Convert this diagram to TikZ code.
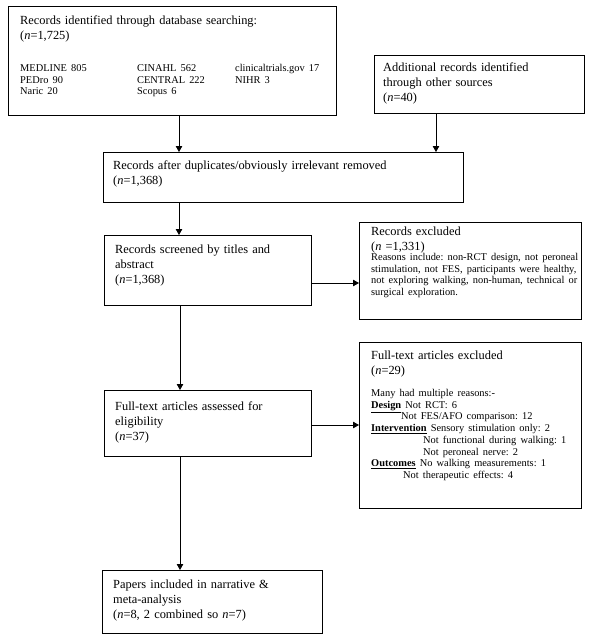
\documentclass[tikz,border=0pt]{standalone}
\usepackage{fontspec}
\setmainfont{Liberation Serif}
\usetikzlibrary{arrows.meta}
\newcommand{\bigtxt}{\fontsize{12.4}{15}\selectfont}
\newcommand{\smtxt}{\fontsize{10.4}{11.7}\selectfont}
\frenchspacing
\begin{document}
\begin{tikzpicture}[x=1pt,y=-1pt,
  boxnode/.style={draw, line width=0.9pt, rectangle, anchor=north west, inner sep=0pt},
  txt/.style={anchor=north west, inner sep=0pt, align=left, text width=#1, font=\bigtxt\frenchspacing},
  arr/.style={line width=0.9pt, -{Triangle[length=6pt,width=6.5pt]}}]
\useasboundingbox (0,0) rectangle (595,638);
% boxes
\node[boxnode, minimum width=328pt, minimum height=109pt] (b1) at (8,6) {};
\node[boxnode, minimum width=210pt, minimum height=58pt] (b2) at (374,55) {};
\node[boxnode, minimum width=360pt, minimum height=50pt] (b3) at (103,152) {};
\node[boxnode, minimum width=207pt, minimum height=70pt] (b4) at (104,235) {};
\node[boxnode, minimum width=222pt, minimum height=97pt] (b5) at (359,222) {};
\node[boxnode, minimum width=207pt, minimum height=66pt] (b6) at (104,390) {};
\node[boxnode, minimum width=222pt, minimum height=166pt] (b7) at (359,342) {};
\node[boxnode, minimum width=220pt, minimum height=63pt] (b8) at (102,570) {};
% texts
\node[txt=310pt] (t1) at (20,16) {Records identified through database searching:\\ (\textit{n}=1,725)};
\node[txt=310pt] (t1a) at (20,63) {\smtxt\setlength{\tabcolsep}{0pt}\begin{tabular}{@{}p{117pt}p{98pt}l@{}}
MEDLINE 805 & CINAHL 562 & clinicaltrials.gov 17\\
PEDro 90 & CENTRAL 222 & NIHR 3\\
Naric 20 & Scopus 6 & \end{tabular}};
\node[txt=195pt] (t2) at (383,63) {Additional records identified\\ through other sources\\ (\textit{n}=40)};
\node[txt=345pt] (t3) at (113,161) {Records after duplicates/obviously irrelevant removed\\ (\textit{n}=1,368)};
\node[txt=190pt] (t4) at (115,245) {Records screened by titles and\\ abstract\\ (\textit{n}=1,368)};
\node[txt=212pt] (t5) at (371,227) {Records excluded\\ (\textit{n} =1,331)\par\vspace{-2pt}\smtxt Reasons include: non-RCT design, not peroneal\\ stimulation, not FES, participants were healthy,\\ not exploring walking, non-human, technical or\\ surgical exploration.\par};
\node[txt=190pt] (t6) at (115,402) {Full-text articles assessed for\\ eligibility\\ (\textit{n}=37)};
\node[txt=212pt] (t7) at (371,351) {Full-text articles excluded\\ (\textit{n}=29)\par\vspace{10pt}\smtxt Many had multiple reasons:-\\
\underline{\textbf{Design}} Not RCT: 6\\
\hspace*{30pt}Not FES/AFO comparison: 12\\
\underline{\textbf{Intervention}} Sensory stimulation only: 2\\
\hspace*{52pt}Not functional during walking: 1\\
\hspace*{52pt}Not peroneal nerve: 2\\
\underline{\textbf{Outcomes}} No walking measurements: 1\\
\hspace*{32pt}Not therapeutic effects: 4\par};
\node[txt=205pt] (t8) at (113,580) {Papers included in narrative \&\\ meta-analysis\\ (\textit{n}=8, 2 combined so \textit{n}=7)};
% connector guides
\coordinate (xa) at (179,0);
\coordinate (xb) at (436,0);
\coordinate (xc) at (180,0);
\coordinate (ya) at (0,283);
\coordinate (yb) at (0,425);
% arrows
\draw[arr] (b1.south -| xa) -- (b3.north -| xa);
\draw[arr] (b2.south -| xb) -- (b3.north -| xb);
\draw[arr] (b3.south -| xa) -- (b4.north -| xa);
\draw[arr] (b4.east |- ya) -- (b5.west |- ya);
\draw[arr] (b4.south -| xc) -- (b6.north -| xc);
\draw[arr] (b6.east |- yb) -- (b7.west |- yb);
\draw[arr] (b6.south -| xc) -- (b8.north -| xc);
\end{tikzpicture}
\end{document}
